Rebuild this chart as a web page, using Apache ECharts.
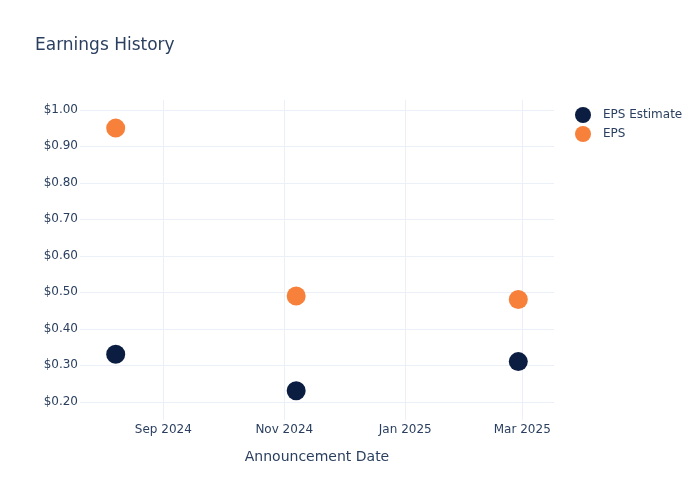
<!DOCTYPE html>
<html lang="en">
<head>
    <meta charset="UTF-8">
    <title>Earnings History</title>
    <script src="https://cdn.jsdelivr.net/npm/echarts@6/dist/echarts.min.js"></script>
    <style>
        html, body { margin: 0; padding: 0; background: #fff; }
    </style>
</head>
<body>
<div id="mybox" style="height: 500px;width: 700px;"></div>
<script>
    // announcement dates and values
    var dates = ['2024-08-08', '2024-11-07', '2025-02-27'];
    var epsEstimate = [0.33, 0.23, 0.31];
    var eps = [0.95, 0.49, 0.48];
    var yTicks = [0.2, 0.3, 0.4, 0.5, 0.6, 0.7, 0.8, 0.9, 1.0];
    var xTicks = ['2024-09-01', '2024-11-01', '2025-01-01', '2025-03-01'];
    var months = ['Jan','Feb','Mar','Apr','May','Jun','Jul','Aug','Sep','Oct','Nov','Dec'];

    var txt = '#2a3f5f';
    var grid = '#ebf0f8';

    function ts(s) {
        var p = s.split('-');
        return Date.UTC(+p[0], +p[1] - 1, +p[2]);
    }
    function pairs(vals) {
        var out = [];
        for (var i = 0; i < dates.length; i++) {
            out.push([ts(dates[i]), vals[i]]);
        }
        return out;
    }

    var mychart = echarts.init(document.getElementById('mybox'));
    mychart.setOption({
        animation: false,
        textStyle: { fontFamily: 'DejaVu Sans' },
        title: {
            text: 'Earnings History',
            left: 30,
            top: 32,
            textStyle: { color: txt, fontSize: 17, fontWeight: 'normal', fontFamily: 'DejaVu Sans' }
        },
        legend: {
            orient: 'vertical',
            left: 570,
            top: 102,
            icon: 'circle',
            itemWidth: 16,
            itemHeight: 16,
            itemGap: 3,
            textStyle: { color: txt, fontSize: 12, padding: [0, 0, 0, 7] },
            data: ['EPS Estimate', 'EPS']
        },
        grid: { left: 80, right: 146, top: 100, bottom: 80 },
        // dates as plain timestamps on a value axis so the month ticks can be placed exactly
        xAxis: {
            type: 'value',
            min: ts('2024-07-21'),
            max: ts('2025-03-17'),
            name: 'Announcement Date',
            nameLocation: 'middle',
            nameGap: 30,
            nameTextStyle: { color: txt, fontSize: 14 },
            axisLine: { show: false },
            axisTick: { show: false, customValues: xTicks.map(ts) },
            splitLine: { show: true, lineStyle: { color: grid, width: 1 } },
            axisLabel: {
                customValues: xTicks.map(ts),
                color: txt,
                fontSize: 12,
                margin: 4,
                formatter: function (v) {
                    var d = new Date(v);
                    return months[d.getUTCMonth()] + ' ' + d.getUTCFullYear();
                }
            }
        },
        yAxis: {
            type: 'value',
            min: 0.15,
            max: 1.027,
            axisLine: { show: false },
            axisTick: { show: false, customValues: yTicks },
            splitLine: { show: true, lineStyle: { color: grid, width: 1 } },
            axisLabel: {
                customValues: yTicks,
                color: txt,
                fontSize: 12,
                margin: 2,
                formatter: function (v) { return '$' + v.toFixed(2); }
            }
        },
        series: [{
            name: 'EPS Estimate',
            type: 'scatter',
            symbolSize: 19,
            itemStyle: { color: '#0b1d40', opacity: 1 },
            data: pairs(epsEstimate)
        }, {
            name: 'EPS',
            type: 'scatter',
            symbolSize: 19,
            itemStyle: { color: '#f7813a', opacity: 1 },
            data: pairs(eps)
        }]
    });
</script>
</body>
</html>
